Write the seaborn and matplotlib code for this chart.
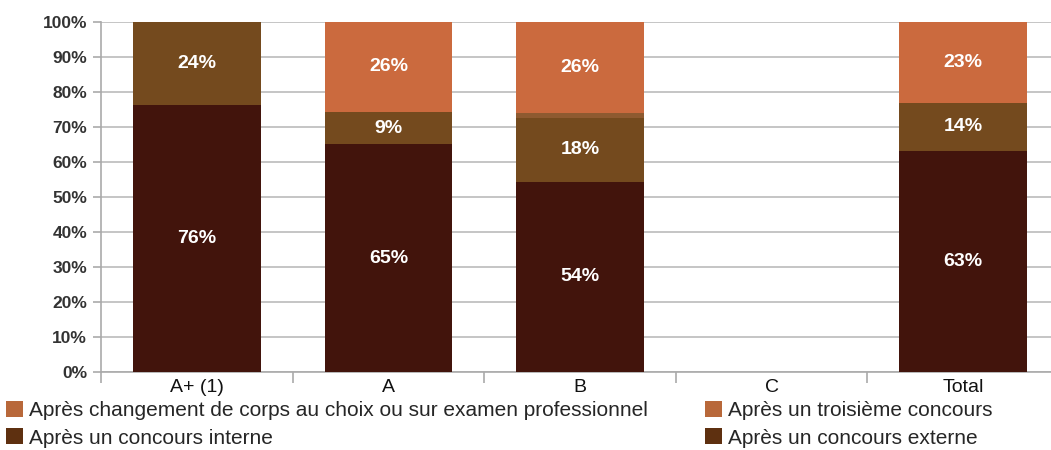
import numpy as np
import pandas as pd
import matplotlib
matplotlib.use("Agg")
import matplotlib.pyplot as plt
import seaborn as sns

# data
categories = ["A+ (1)", "A", "B", "C", "Total"]
externe = [76.3, 65.1, 54.3, np.nan, 63.2]
interne = [23.7, 9.2, 18.3, np.nan, 13.8]
troisieme = [0, 0, 1.4, np.nan, 0]
changement = [0, 25.7, 26.0, np.nan, 23.0]
labels_externe = ["76%", "65%", "54%", "", "63%"]
labels_interne = ["24%", "9%", "18%", "", "14%"]
labels_changement = ["", "26%", "26%", "", "23%"]

series_names = [
    "Après un concours externe",
    "Après un concours interne",
    "Après un troisième concours",
    "Après changement de corps au choix ou sur examen professionnel",
]
colors = ["#42140c", "#744a1e", "#8e5a30", "#cb6a3e"]
legend_colors = ["#5e3010", "#5e3010", "#b8683a", "#b8683a"]

sns.set_style("white")
plt.rcParams['font.family'] = ['Liberation Sans', 'DejaVu Sans']

df = pd.DataFrame({"cat": categories, "ext": externe, "int": interne,
                   "tro": troisieme, "chg": changement})
df["c1"] = df["ext"]
df["c2"] = df["c1"] + df["int"]
df["c3"] = df["c2"] + df["tro"]
df["c4"] = df["c3"] + df["chg"]

fig = plt.figure(figsize=(10.51, 4.5), dpi=100)
ax = fig.add_axes([101 / 1051, 78 / 450, 958 / 1051, 350 / 450])

# draw stacked bars back to front (cumulative totals)
for col, color, name in zip(["c4", "c3", "c2", "c1"], colors[::-1], series_names[::-1]):
    sns.barplot(data=df, x="cat", y=col, color=color, width=0.667,
                saturation=1, ax=ax, label=name, zorder=3,
                edgecolor="none", linewidth=0)

# segment labels
for i in range(len(categories)):
    for lab, lo, hi in [(labels_externe[i], 0, df["c1"][i]),
                        (labels_interne[i], df["c1"][i], df["c2"][i]),
                        (labels_changement[i], df["c3"][i], df["c4"][i])]:
        if lab:
            ax.text(i, (lo + hi) / 2, lab, ha="center", va="center", color="white",
                    fontsize=14, fontweight="bold", zorder=5)

ax.set_xlim(-0.5, 4.5)
ax.set_ylim(0, 100)
ax.set_yticks(np.arange(0, 101, 10))
ax.set_yticklabels([f"{v}%" for v in range(0, 101, 10)], fontsize=12.5,
                   fontweight="bold", color="#333333")
ax.yaxis.grid(True, color="#bbbbbb", linewidth=1.2, zorder=0)
ax.set_axisbelow(True)
ax.set_xlabel("")
ax.set_ylabel("")
ax.tick_params(axis="x", which="major", length=0, labelsize=14, pad=5,
               labelcolor="#111111")
ax.tick_params(axis="y", left=True, length=6, color="#aaaaaa", width=1.2,
               direction="out", pad=4)
ax.set_xticks(np.arange(-0.5, 5, 1), minor=True)
ax.tick_params(axis="x", which="minor", bottom=True, length=8, color="#aaaaaa",
               width=1.2, direction="out")
for s in ["top", "right"]:
    ax.spines[s].set_visible(False)
for s in ["left", "bottom"]:
    ax.spines[s].set_color("#aaaaaa")
    ax.spines[s].set_linewidth(1.2)

handles, labs = ax.get_legend_handles_labels()
hmap = dict(zip(labs, handles))
order = [series_names[3], series_names[1], series_names[2], series_names[0]]
leg = ax.legend([hmap[n] for n in order], order, ncol=2, loc="upper left",
                bbox_to_anchor=(0.004, 0.113), bbox_transform=fig.transFigure,
                frameon=False, prop={"size": 15},
                handlelength=0.8, handleheight=0.8,
                handletextpad=0.3, columnspacing=2.75, labelspacing=0.38,
                borderaxespad=0, borderpad=0.1)
for h, c in zip(leg.legend_handles, [legend_colors[3], legend_colors[1],
                                     legend_colors[2], legend_colors[0]]):
    h.set_facecolor(c)

fig.savefig("out.png", dpi=100)
